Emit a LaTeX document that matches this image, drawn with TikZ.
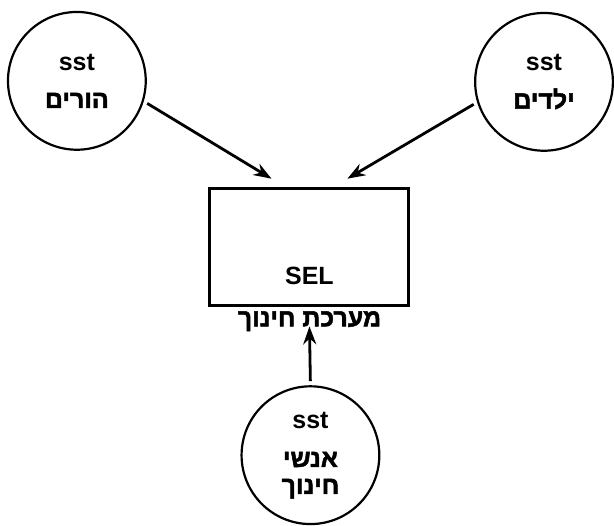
\documentclass[tikz,border=0pt]{standalone}
\usepackage{fontspec}
\setmainfont{Liberation Sans}
\newfontfamily\hebfont[Script=Hebrew,BoldFont={Liberation Sans Bold},BoldFeatures={FakeBold=2}]{Liberation Sans}
\TeXXeTstate=1
\newcommand{\heb}[1]{{\hebfont\beginR #1\endR}}
\usetikzlibrary{arrows.meta}
\begin{document}
\begin{tikzpicture}[x=1pt,y=-1pt,line width=2.2pt,
  every node/.style={font=\bfseries\fontsize{25}{27}\selectfont,inner sep=0pt,align=center},
  actor/.style={draw,circle,line width=2.2pt,minimum size=138pt},
  box/.style={draw,line width=2.5pt,minimum width=199pt,minimum height=117pt},
  flow/.style={line width=2.8pt,-{Stealth[length=18pt,width=13pt,inset=6pt]},shorten <=4pt}]
\path (0,0) rectangle (614,524);
\node[actor] (parents) at (77,81) {sst\\[11pt]\heb{הורים}};
\node[actor] (kids) at (545,82) {sst\\[11pt]\heb{ילדים}};
\node[actor] (staff) at (311,456) {sst\\[12pt]\heb{אנשי}\\\heb{חינוך}};
\node[box] (sel) at (309.5,247.5) {};
\node (selname) at (310,276) {SEL};
\node[anchor=base] (system) at (310,327) {\heb{מערכת חינוך}};
\coordinate (parentsend) at (272,179);
\coordinate (kidsend) at (348,179);
\coordinate (staffend) at (310,327);
\draw[flow] (parents.-17) -- (parentsend);
\draw[flow] (kids.-163) -- (kidsend);
\draw[flow] (staff.north) -- (staffend);
\end{tikzpicture}
\end{document}
